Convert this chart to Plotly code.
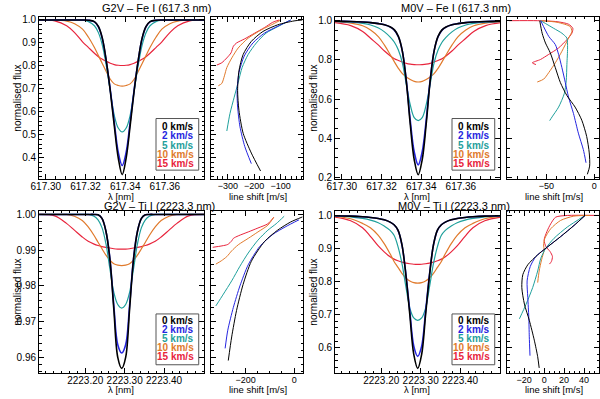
import plotly.graph_objects as go

# ---------------- data ----------------
VSINI_LABELS = ['0 km/s', '2 km/s', '5 km/s', '10 km/s', '15 km/s']
COLORS = ['#000000', '#2626e0', '#1fa09c', '#e07a2c', '#e8243c']

WL_FE = [617.2965, 617.3045, 617.3105, 617.3145, 617.3185, 617.3215, 617.3245, 617.3265, 617.3285,
         617.3305, 617.3325, 617.3345, 617.3365, 617.3385, 617.3405, 617.3425, 617.3445, 617.3465,
         617.3485, 617.3505, 617.3525, 617.3555, 617.3585, 617.3625, 617.3665, 617.3725, 617.3805]
WL_TI = [2223.0825, 2223.1225, 2223.1525, 2223.1725, 2223.1925, 2223.2075, 2223.2225, 2223.2325, 2223.2425,
         2223.2525, 2223.2625, 2223.2725, 2223.2825, 2223.2925, 2223.3025, 2223.3125, 2223.3225, 2223.3325,
         2223.3425, 2223.3525, 2223.3625, 2223.3775, 2223.3925, 2223.4125, 2223.4325, 2223.4625, 2223.5025]

FE_TICKS = [617.30, 617.32, 617.34, 617.36]
TI_TICKS = [2223.20, 2223.30, 2223.40]

G2V_FE_FLUX = [
    [1.0, 1.0, 1.0, 1.0, 1.0, 0.999, 0.993, 0.972, 0.92, 0.82, 0.69, 0.54, 0.40, 0.327, 0.40, 0.54, 0.69, 0.82, 0.92, 0.972, 0.993, 0.999, 1.0, 1.0, 1.0, 1.0, 1.0],
    [1.0, 1.0, 1.0, 1.0, 1.0, 0.999, 0.992, 0.97, 0.918, 0.82, 0.695, 0.555, 0.425, 0.367, 0.425, 0.555, 0.695, 0.82, 0.918, 0.97, 0.992, 0.999, 1.0, 1.0, 1.0, 1.0, 1.0],
    [1.0, 1.0, 1.0, 1.0, 0.999, 0.993, 0.975, 0.945, 0.89, 0.80, 0.69, 0.585, 0.53, 0.513, 0.53, 0.585, 0.69, 0.80, 0.89, 0.945, 0.975, 0.993, 0.999, 1.0, 1.0, 1.0, 1.0],
    [1.0, 1.0, 0.995, 0.984, 0.96, 0.925, 0.88, 0.845, 0.81, 0.775, 0.742, 0.722, 0.715, 0.712, 0.715, 0.722, 0.742, 0.775, 0.81, 0.845, 0.88, 0.925, 0.96, 0.984, 0.995, 1.0, 1.0],
    [1.0, 0.996, 0.975, 0.945, 0.905, 0.88, 0.855, 0.84, 0.829, 0.82, 0.812, 0.806, 0.803, 0.802, 0.803, 0.806, 0.812, 0.82, 0.829, 0.84, 0.855, 0.88, 0.905, 0.945, 0.975, 0.996, 1.0],
]
M0V_FE_FLUX = [
    [0.998, 0.996, 0.993, 0.99, 0.985, 0.979, 0.968, 0.953, 0.92, 0.845, 0.69, 0.47, 0.29, 0.214, 0.29, 0.47, 0.69, 0.845, 0.92, 0.953, 0.968, 0.979, 0.985, 0.99, 0.993, 0.996, 0.998],
    [0.998, 0.996, 0.993, 0.99, 0.985, 0.979, 0.967, 0.952, 0.918, 0.845, 0.695, 0.49, 0.33, 0.264, 0.33, 0.49, 0.695, 0.845, 0.918, 0.952, 0.967, 0.979, 0.985, 0.99, 0.993, 0.996, 0.998],
    [0.997, 0.993, 0.986, 0.978, 0.963, 0.943, 0.915, 0.89, 0.85, 0.785, 0.675, 0.57, 0.505, 0.49, 0.505, 0.57, 0.675, 0.785, 0.85, 0.89, 0.915, 0.943, 0.963, 0.978, 0.986, 0.993, 0.997],
    [0.997, 0.988, 0.974, 0.952, 0.917, 0.875, 0.825, 0.79, 0.757, 0.73, 0.713, 0.70, 0.69, 0.687, 0.69, 0.70, 0.713, 0.73, 0.757, 0.79, 0.825, 0.875, 0.917, 0.952, 0.974, 0.988, 0.997],
    [0.99, 0.975, 0.945, 0.91, 0.875, 0.845, 0.82, 0.806, 0.797, 0.789, 0.782, 0.778, 0.776, 0.775, 0.776, 0.778, 0.782, 0.789, 0.797, 0.806, 0.82, 0.845, 0.875, 0.91, 0.945, 0.975, 0.99],
]
G2V_TI_FLUX = [
    [1.0, 1.0, 1.0, 1.0, 1.0, 1.0, 1.0, 0.9999, 0.9989, 0.9953, 0.9875, 0.9735, 0.960, 0.9569, 0.960, 0.9735, 0.9875, 0.9953, 0.9989, 0.9999, 1.0, 1.0, 1.0, 1.0, 1.0, 1.0, 1.0],
    [1.0, 1.0, 1.0, 1.0, 1.0, 1.0, 1.0, 0.9999, 0.9989, 0.9953, 0.9877, 0.9745, 0.9635, 0.9612, 0.9635, 0.9745, 0.9877, 0.9953, 0.9989, 0.9999, 1.0, 1.0, 1.0, 1.0, 1.0, 1.0, 1.0],
    [1.0, 1.0, 1.0, 1.0, 1.0, 1.0, 0.9995, 0.9985, 0.9963, 0.9918, 0.9848, 0.9782, 0.9748, 0.9738, 0.9748, 0.9782, 0.9848, 0.9918, 0.9963, 0.9985, 0.9995, 1.0, 1.0, 1.0, 1.0, 1.0, 1.0],
    [1.0, 1.0, 1.0, 0.9995, 0.9983, 0.9965, 0.9941, 0.9922, 0.9904, 0.9886, 0.9872, 0.9862, 0.9858, 0.9857, 0.9858, 0.9862, 0.9872, 0.9886, 0.9904, 0.9922, 0.9941, 0.9965, 0.9983, 0.9995, 1.0, 1.0, 1.0],
    [1.0, 0.9996, 0.9975, 0.9956, 0.9937, 0.9925, 0.9917, 0.9913, 0.991, 0.9908, 0.9906, 0.9904, 0.9903, 0.9903, 0.9903, 0.9904, 0.9906, 0.9908, 0.991, 0.9913, 0.9917, 0.9925, 0.9937, 0.9956, 0.9975, 0.9996, 1.0],
]
M0V_TI_FLUX = [
    [0.999, 0.998, 0.996, 0.994, 0.991, 0.987, 0.98, 0.972, 0.956, 0.912, 0.82, 0.70, 0.58, 0.5375, 0.58, 0.70, 0.82, 0.912, 0.956, 0.972, 0.98, 0.987, 0.991, 0.994, 0.996, 0.998, 0.999],
    [0.999, 0.998, 0.996, 0.994, 0.991, 0.987, 0.98, 0.972, 0.955, 0.911, 0.823, 0.71, 0.605, 0.574, 0.605, 0.71, 0.823, 0.911, 0.955, 0.972, 0.98, 0.987, 0.991, 0.994, 0.996, 0.998, 0.999],
    [0.998, 0.996, 0.991, 0.986, 0.978, 0.968, 0.955, 0.94, 0.906, 0.855, 0.785, 0.72, 0.69, 0.683, 0.69, 0.72, 0.785, 0.855, 0.906, 0.94, 0.955, 0.968, 0.978, 0.986, 0.991, 0.996, 0.998],
    [0.997, 0.99, 0.976, 0.963, 0.94, 0.915, 0.884, 0.861, 0.843, 0.825, 0.811, 0.802, 0.797, 0.7955, 0.797, 0.802, 0.811, 0.825, 0.843, 0.861, 0.884, 0.915, 0.94, 0.963, 0.976, 0.99, 0.997],
    [0.995, 0.984, 0.963, 0.937, 0.908, 0.89, 0.875, 0.868, 0.863, 0.859, 0.856, 0.854, 0.8525, 0.852, 0.8525, 0.854, 0.856, 0.859, 0.863, 0.868, 0.875, 0.89, 0.908, 0.937, 0.963, 0.984, 0.995],
]

# line bisectors: shift [m/s] and flux level
G2V_FE_BIS_SHIFT = [
    [-176, -211, -242, -258, -263, -258, -242, -211, -167, -111, -49, -18],
    [-211, -236, -254, -263, -265, -258, -238, -205, -161, -105, -61],
    [-304, -292, -276, -261, -246, -223, -192, -155, -111, -74, -62],
    [-336, -323, -313, -304, -285, -261, -223, -173, -124, -99],
    [-342, -323, -304, -288, -279, -267, -236, -198, -161, -130, -105],
]
G2V_FE_BIS_FLUX = [
    [0.343, 0.421, 0.507, 0.607, 0.693, 0.778, 0.85, 0.907, 0.95, 0.979, 0.996, 1.0],
    [0.375, 0.45, 0.535, 0.621, 0.693, 0.771, 0.843, 0.90, 0.943, 0.976, 1.0],
    [0.517, 0.593, 0.664, 0.728, 0.793, 0.85, 0.90, 0.943, 0.971, 0.993, 1.0],
    [0.714, 0.724, 0.757, 0.793, 0.835, 0.878, 0.921, 0.957, 0.985, 1.0],
    [0.804, 0.814, 0.835, 0.857, 0.886, 0.90, 0.918, 0.943, 0.967, 0.99, 1.0],
]
M0V_FE_BIS_SHIFT = [
    [-57, -54.5, -51, -46, -40.7, -35.5, -28.6, -20, -13, -7.9, -5.2, -4.8, -7.2],
    [-56, -47.6, -40.7, -37.3, -33.8, -30.3, -26.9, -21.7, -16.6, -11.4, -8.6],
    [-56, -42.4, -33.8, -28.6, -27.9, -28.6, -29.3, -31.4, -37.3, -44.1, -46.6],
    [-56, -38.9, -25.2, -23.4, -26.9, -33.8, -40.7, -47.6, -52.8, -59.6],
    [-89, -59.6, -38.9, -26.9, -22.4, -23.4, -28.6, -37.3, -47.6, -56.2, -64.8, -61],
]
M0V_FE_BIS_FLUX = [
    [1.0, 0.936, 0.886, 0.836, 0.76, 0.685, 0.618, 0.559, 0.492, 0.409, 0.325, 0.258, 0.216],
    [1.0, 0.92, 0.878, 0.828, 0.76, 0.685, 0.61, 0.526, 0.426, 0.342, 0.275],
    [1.0, 0.961, 0.936, 0.911, 0.861, 0.777, 0.693, 0.627, 0.559, 0.509, 0.49],
    [1.0, 0.992, 0.97, 0.945, 0.911, 0.844, 0.785, 0.735, 0.702, 0.687],
    [1.0, 1.0, 0.995, 0.982, 0.961, 0.936, 0.903, 0.861, 0.828, 0.802, 0.785, 0.776],
]
G2V_TI_BIS_SHIFT = [
    [-271, -257, -237, -210, -176, -122, -68, -14, 34],
    [-284, -273, -250, -223, -189, -142, -88, -34, 20],
    [-322, -291, -257, -223, -189, -149, -108, -74, -41],
    [-322, -300, -277, -257, -230, -189, -149, -108, -84],
    [-335, -297, -273, -257, -250, -230, -189, -149, -108, -84],
]
G2V_TI_BIS_FLUX = [
    [0.9591, 0.9657, 0.9731, 0.9804, 0.9869, 0.9924, 0.9956, 0.9979, 0.9993],
    [0.9625, 0.9676, 0.974, 0.98, 0.9859, 0.991, 0.9944, 0.9966, 0.9985],
    [0.9744, 0.9777, 0.9814, 0.9855, 0.9892, 0.9928, 0.9956, 0.9974, 0.9995],
    [0.9861, 0.987, 0.9882, 0.9898, 0.9915, 0.9933, 0.9951, 0.997, 0.9992],
    [0.9908, 0.9912, 0.9916, 0.9926, 0.9933, 0.994, 0.9951, 0.9962, 0.9974, 0.9992],
]
M0V_TI_BIS_SHIFT = [
    [41, 30, 16.5, 1.7, -6.5, -16.4, -21.4, -22.4, -19.8, -14.9, -9.9, -6.5, -5],
    [41, 30, 16.5, 1.7, -8.2, -13.9, -17.1, -16.4, -15.4, -14.9, -14.2],
    [41, 23.2, 9.9, 1.7, -3.3, -6.5, -11.5, -18.1, -24.8],
    [46, 29.7, 16.5, 6.6, 0.7, -0.6, 0, -2.6, -5, -6.5],
    [56, 23.2, 11.6, 6.6, 2.7, 0, 1.7, 5.9, 8.3, 7.3, 5.3],
]
M0V_TI_BIS_FLUX = [
    [1.0, 0.970, 0.936, 0.901, 0.881, 0.851, 0.821, 0.782, 0.732, 0.683, 0.623, 0.573, 0.539],
    [1.0, 0.97, 0.936, 0.901, 0.876, 0.846, 0.802, 0.752, 0.693, 0.633, 0.576],
    [1.0, 0.965, 0.931, 0.901, 0.871, 0.832, 0.782, 0.732, 0.6875],
    [1.0, 0.998, 0.985, 0.96, 0.931, 0.911, 0.896, 0.866, 0.832, 0.797],
    [1.0, 1.0, 0.995, 0.975, 0.951, 0.926, 0.906, 0.891, 0.876, 0.861, 0.853],
]

TITLES = ['G2V – Fe I (617.3 nm)', 'M0V – Fe I (617.3 nm)',
          'G2V – Ti I (2223.3 nm)', 'M0V – Ti I (2223.3 nm)']

# ---------------- layout helpers ----------------
W, H = 600, 399
FONT = 'Liberation Sans'


def px(x):
    return x / W


def py(y):
    return 1 - y / H


panels = [
    dict(wl=WL_FE, flux=G2V_FE_FLUX, bs=G2V_FE_BIS_SHIFT, bf=G2V_FE_BIS_FLUX, xt=FE_TICKS,
         xr=[617.2966, 617.3799], yr=[0.309, 1.014], ydt=0.1, ymin=0.02, yfmt='.1f',
         bxr=[-363, -15], bdt=100, bmin=20, xmin=0.005, x0=0, top=True, title_x=150),
    dict(wl=WL_FE, flux=M0V_FE_FLUX, bs=M0V_FE_BIS_SHIFT, bf=M0V_FE_BIS_FLUX, xt=FE_TICKS,
         xr=[617.2966, 617.3799], yr=[0.193, 1.020], ydt=0.2, ymin=0.05, yfmt='.1f',
         bxr=[-91, 5], bdt=50, bmin=10, xmin=0.005, x0=300, top=True, title_x=454),
    dict(wl=WL_TI, flux=G2V_TI_FLUX, bs=G2V_TI_BIS_SHIFT, bf=G2V_TI_BIS_FLUX, xt=TI_TICKS,
         xr=[2223.083, 2223.502], yr=[0.9556, 1.0011], ydt=0.01, ymin=0.002, yfmt='.2f',
         bxr=[-341, 36.5], bdt=200, bmin=50, xmin=0.02, x0=0, top=False, title_x=154),
    dict(wl=WL_TI, flux=M0V_TI_FLUX, bs=M0V_TI_BIS_SHIFT, bf=M0V_TI_BIS_FLUX, xt=TI_TICKS,
         xr=[2223.083, 2223.502], yr=[0.5235, 1.015], ydt=0.1, ymin=0.02, yfmt='.1f',
         bxr=[-37, 55], bdt=20, bmin=5, xmin=0.02, x0=300, top=False, title_x=452),
]


def axis_style(minor_dtick, size, labels=True):
    return dict(showline=True, linecolor='black', linewidth=1, mirror='allticks',
                ticks='inside', ticklen=5, tickwidth=1, tickcolor='black',
                showgrid=False, zeroline=False, tickangle=0,
                minor=dict(ticks='inside', ticklen=2.5, tickcolor='black', dtick=minor_dtick,
                           tick0=0, showgrid=False),
                showticklabels=labels, tickfont=dict(family=FONT, size=size, color='black'))


def note(text, x, y, size, color='black', xanchor='center', angle=0):
    return dict(text=text, x=x, y=y, xref='paper', yref='paper', showarrow=False,
                xanchor=xanchor, yanchor='middle', textangle=angle, borderpad=0,
                font=dict(family=FONT, size=size, color=color))


fig = go.Figure()
layout = dict(width=W, height=H, margin=dict(l=0, r=0, t=0, b=0),
              paper_bgcolor='white', plot_bgcolor='white', showlegend=False,
              font=dict(family=FONT, color='black'))
annotations = []
shapes = []

for i, p in enumerate(panels):
    mx, bx = 2 * i + 1, 2 * i + 2
    x0 = p['x0']
    ydom = [py(179.5), py(15)] if p['top'] else [py(376.7), py(211.7)]
    mdom = [px(x0 + 31.5), px(x0 + 199)]
    bdom = [px(x0 + 206), px(x0 + 299)]

    xm = 'xaxis' if mx == 1 else 'xaxis%d' % mx
    ym = 'yaxis' if mx == 1 else 'yaxis%d' % mx
    xb, yb = 'xaxis%d' % bx, 'yaxis%d' % bx
    xref_m = 'x' if mx == 1 else 'x%d' % mx
    yref_m = 'y' if mx == 1 else 'y%d' % mx
    xref_b, yref_b = 'x%d' % bx, 'y%d' % bx

    a = axis_style(p['xmin'], 10)
    a.update(domain=mdom, range=p['xr'], anchor=yref_m, tickmode='array', tickvals=p['xt'],
             ticktext=['%.2f' % v for v in p['xt']], ticklabelstandoff=-2)
    a['minor'].update(tick0=p['xt'][0])
    layout[xm] = a
    a = axis_style(p['ymin'], 10)
    a.update(domain=ydom, range=p['yr'], anchor=xref_m, dtick=p['ydt'], tick0=0,
             tickformat=p['yfmt'])
    layout[ym] = a
    a = axis_style(p['bmin'], 9)
    a.update(domain=bdom, range=p['bxr'], anchor=yref_b, dtick=p['bdt'], tick0=0,
             ticklabelstandoff=-2)
    layout[xb] = a
    a = axis_style(p['ymin'], 9, labels=False)
    a.update(domain=ydom, range=p['yr'], anchor=xref_b, dtick=p['ydt'], tick0=0)
    layout[yb] = a

    for k in [4, 3, 2, 1, 0]:
        fig.add_trace(go.Scatter(x=p['wl'], y=p['flux'][k], mode='lines',
                                 line=dict(color=COLORS[k], width=1.6 if k < 2 else 1.2,
                                           shape='spline', smoothing=1.0),
                                 xaxis=xref_m, yaxis=yref_m, hoverinfo='skip'))
    for k in [4, 3, 2, 1, 0]:
        fig.add_trace(go.Scatter(x=p['bs'][k], y=p['bf'][k], mode='lines',
                                 line=dict(color=COLORS[k], width=1.0, shape='spline', smoothing=0.7),
                                 xaxis=xref_b, yaxis=yref_b, hoverinfo='skip'))

    ttop = 6.5 if p['top'] else 207
    annotations.append(note(TITLES[i], px(p['title_x']), py(ttop), 11))
    lab_y = 197 if p['top'] else 393.8
    annotations.append(note('λ [nm]', px(x0 + 115), py(lab_y), 9.5))
    annotations.append(note('line shift [m/s]', px(x0 + 253), py(lab_y), 9.5))
    annotations.append(note('normalised flux', px(x0 + 10), (ydom[0] + ydom[1]) / 2, 10, angle=-90))
    if p['top']:
        box = (118.3, 170.7)
        rows = [126, 135.6, 145.2, 154.8, 164.3]
    else:
        box = (316.7, 368.3)
        rows = [323.5, 332.8, 342.0, 351.2, 360.3]
    shapes.append(dict(type='rect', xref='paper', yref='paper', x0=px(x0 + 150), x1=px(x0 + 193.3),
                       y0=py(box[1]), y1=py(box[0]), line=dict(color='#555555', width=1)))
    for k in range(5):
        annotations.append(note('<b>%s</b>' % VSINI_LABELS[k], px(x0 + 189.5), py(rows[k]), 10,
                                color=COLORS[k], xanchor='right'))

layout['annotations'] = annotations
layout['shapes'] = shapes
fig.update_layout(**layout)
fig.write_html('out.html', config={'displayModeBar': False},
               post_script="document.body.style.margin='0px';document.body.style.padding='0px';")
